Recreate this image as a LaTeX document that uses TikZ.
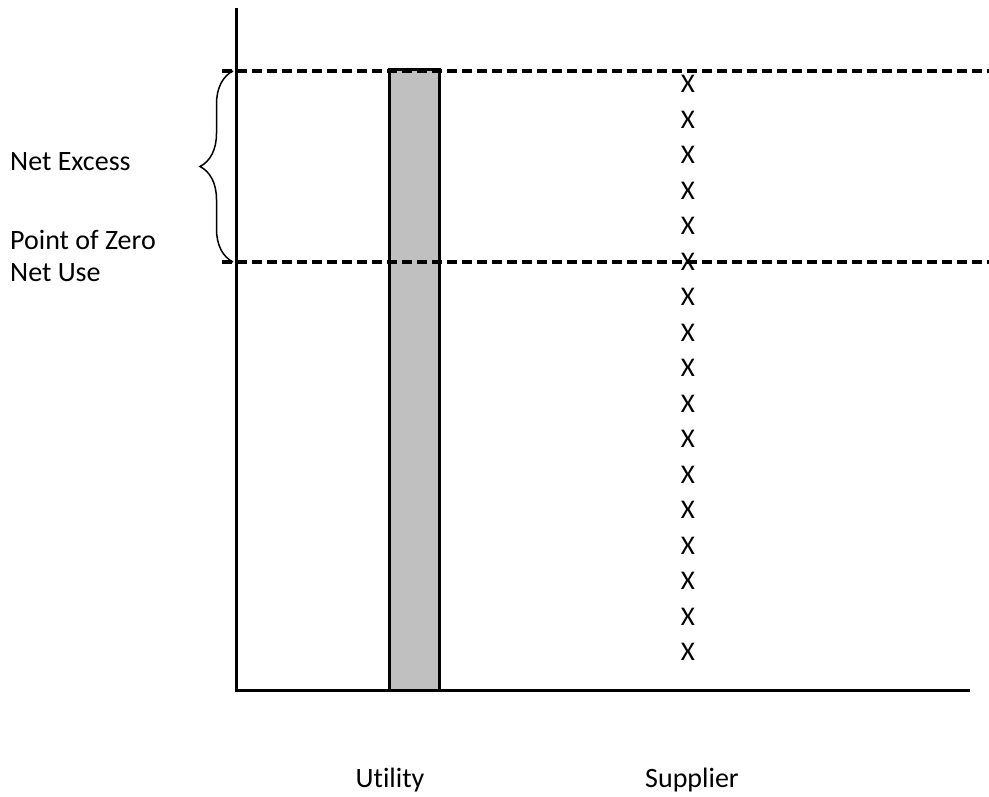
\documentclass[tikz,border=0pt]{standalone}
\usepackage{fontspec}
\setmainfont{Carlito}[Ligatures=NoCommon]
\usetikzlibrary{decorations.pathreplacing}

\begin{document}
\begin{tikzpicture}[x=1pt, y=-1pt,
    label_text/.style={font=\fontsize{28}{32}\selectfont, inner sep=0, align=left},
    mark_text/.style={font=\fontsize{27}{28}\selectfont, inner sep=0},
    level_line/.style={line width=3.5pt, dash pattern=on 10pt off 5pt},
    axis_line/.style={line width=3pt}]
    \useasboundingbox (0,0) rectangle (989,797);
    \draw[axis_line, fill={rgb,255:red,192;green,192;blue,192}] (389,70) rectangle (439,690);
    \coordinate (top_l) at (222,71);
    \coordinate (top_r) at (989,71);
    \coordinate (zero_l) at (222,262);
    \coordinate (zero_r) at (989,262);
    \draw[level_line] (top_l) -- (top_r);
    \draw[level_line] (zero_l) -- (zero_r);
    \coordinate (origin) at (236,690);
    \coordinate (y_end) at (236,8);
    \coordinate (x_end) at (970,690);
    \draw[axis_line] (y_end) -- (origin) -- (x_end);
    \coordinate (brace_lo) at (233,262);
    \coordinate (brace_hi) at (233,71);
    \draw[line width=1.5pt, decorate, decoration={brace, amplitude=33pt}] (brace_lo) -- (brace_hi);
    \node[label_text, anchor=west] (net_excess) at (10,162) {Net Excess};
    \node[label_text, anchor=west] (zero_use) at (10,256) {Point of Zero\\Net Use};
    \node[label_text] (utility) at (390,780) {Utility};
    \node[label_text] (supplier) at (692,780) {Supplier};
    \foreach \i in {0,...,16}
        \node[mark_text] (x\i) at (688,{84+35.5*\i}) {X};
\end{tikzpicture}
\end{document}
